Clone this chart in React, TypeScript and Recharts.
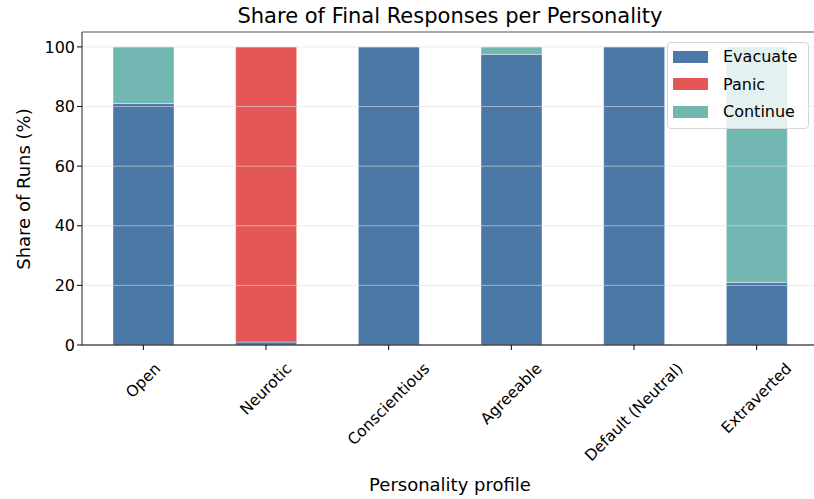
import React from 'react';
import { BarChart, Bar, XAxis, YAxis, ReferenceLine } from 'recharts';

const profiles = ['Open', 'Neurotic', 'Conscientious', 'Agreeable', 'Default (Neutral)', 'Extraverted'];
const evacuate = [81, 1, 100, 97.5, 100, 21];
const panic = [0, 99, 0, 0, 0, 0];
const keepGoing = [19, 0, 0, 2.5, 0, 79];
const yTicks = [0, 20, 40, 60, 80, 100];

const series = [
    { key: 'evacuate', name: 'Evacuate', color: '#4C78A8' },
    { key: 'panic', name: 'Panic', color: '#E45756' },
    { key: 'continue', name: 'Continue', color: '#72B7B2' },
];

const data = profiles.map((p, i) => ({
    name: p,
    evacuate: evacuate[i],
    panic: panic[i],
    continue: keepGoing[i],
}));

const FONT = '"DejaVu Sans", sans-serif';

let ctx: CanvasRenderingContext2D | null = null;
const textWidth = (s: string, size: number) => {
    if (!ctx) ctx = document.createElement('canvas').getContext('2d');
    if (!ctx) return s.length * size * 0.6;
    ctx.font = `${size}px "DejaVu Sans"`;
    return ctx.measureText(s).width;
};

// matplotlib style: rotation 45, ha center
const RotatedTick = (props: any) => {
    const { x, y, payload } = props;
    const size = 15.5;
    const w = textWidth(payload.value, size);
    const h = size * 1.1;
    const half = 0.7071 * (w + h) / 2;
    const cy = y + 8 + half;
    return (
        <text
            x={x}
            y={cy}
            textAnchor="middle"
            dominantBaseline="central"
            fontSize={size}
            fontFamily={FONT}
            fill="#000"
            transform={`rotate(-45, ${x}, ${cy})`}
        >
            {payload.value}
        </text>
    );
};

const textStyle: React.CSSProperties = {
    position: 'absolute',
    fontFamily: FONT,
    color: '#000',
    whiteSpace: 'nowrap',
    zIndex: 2,
    lineHeight: 1,
};

export default function App() {
    return (
        <div style={{ position: 'fixed', top: 0, left: 0, width: 814, height: 499, overflow: 'hidden', background: '#fff' }}>
            <BarChart
                width={820}
                height={499}
                data={data}
                margin={{ top: 32, right: 2, left: 22, bottom: 0 }}
                barSize={61}
            >
                {series.map(s => (
                    <Bar
                        key={s.key}
                        dataKey={s.key}
                        stackId="a"
                        fill={s.color}
                        stroke="#ffffff"
                        strokeOpacity={0.5}
                        strokeWidth={0.8}
                        isAnimationActive={false}
                    />
                ))}
                {yTicks.map(t => (
                    <ReferenceLine key={t} y={t} stroke="#dddddd" strokeOpacity={0.6} strokeWidth={1} />
                ))}
                <ReferenceLine y={105} stroke="#555" strokeWidth={1.2} />
                <XAxis
                    dataKey="name"
                    height={154}
                    interval={0}
                    tick={<RotatedTick />}
                    tickSize={5}
                    axisLine={{ stroke: '#000', strokeWidth: 1.2 }}
                    tickLine={{ stroke: '#000' }}
                />
                <YAxis
                    domain={[0, 105]}
                    ticks={yTicks}
                    width={60}
                    tickSize={5}
                    tick={{ fontSize: 16, fontFamily: FONT, fill: '#000' }}
                    axisLine={{ stroke: '#444', strokeWidth: 1.2 }}
                    tickLine={{ stroke: '#000' }}
                />
            </BarChart>
            <div style={{ ...textStyle, top: 6, left: 82, width: 736, textAlign: 'center', fontSize: 21 }}>
                Share of Final Responses per Personality
            </div>
            <div style={{ ...textStyle, top: 476, left: 82, width: 736, textAlign: 'center', fontSize: 18 }}>
                Personality profile
            </div>
            <div
                style={{
                    ...textStyle,
                    top: 189,
                    left: 24,
                    fontSize: 18,
                    transform: 'translate(-50%, -50%) rotate(-90deg)',
                }}
            >
                Share of Runs (%)
            </div>
            <div
                style={{
                    position: 'absolute',
                    zIndex: 2,
                    left: 667,
                    top: 42,
                    width: 142,
                    height: 87,
                    boxSizing: 'border-box',
                    background: 'rgba(255,255,255,0.8)',
                    border: '1px solid #d6d6d6',
                    borderRadius: 4,
                    padding: '0 0 0 5px',
                    fontFamily: FONT,
                    fontSize: 16,
                    color: '#000',
                }}
            >
                {series.map(s => (
                    <div key={s.key} style={{ display: 'flex', alignItems: 'center', height: 27.5 }}>
                        <span style={{ display: 'inline-block', width: 35, height: 12, background: s.color, marginRight: 15 }} />
                        <span>{s.name}</span>
                    </div>
                ))}
            </div>
        </div>
    );
}
